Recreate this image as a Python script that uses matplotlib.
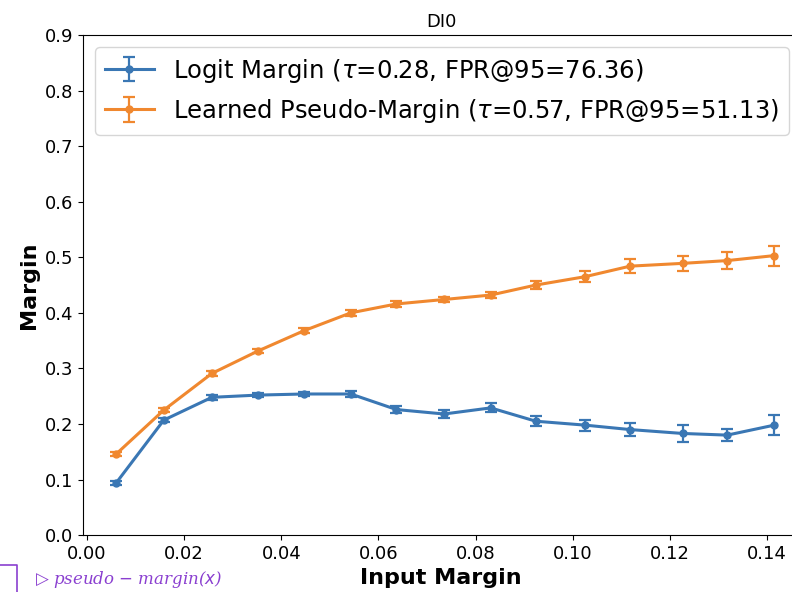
import numpy as np
import matplotlib.pyplot as plt
from matplotlib.lines import Line2D

# input margin bins
input_margin = [0.0060, 0.0158, 0.0257, 0.0351, 0.0447, 0.0543, 0.0637, 0.0735,
                0.0831, 0.0924, 0.1025, 0.1118, 0.1226, 0.1318, 0.1415]

logit_mean = [0.094, 0.207, 0.248, 0.252, 0.254, 0.254, 0.226, 0.218,
              0.229, 0.205, 0.198, 0.190, 0.183, 0.180, 0.198]
logit_err = [0.003, 0.004, 0.004, 0.004, 0.004, 0.005, 0.007, 0.007,
             0.008, 0.009, 0.010, 0.012, 0.015, 0.011, 0.018]

pseudo_mean = [0.146, 0.225, 0.291, 0.331, 0.368, 0.400, 0.416, 0.424,
               0.432, 0.450, 0.465, 0.484, 0.489, 0.494, 0.503]
pseudo_err = [0.003, 0.004, 0.004, 0.004, 0.004, 0.005, 0.005, 0.005,
              0.006, 0.008, 0.010, 0.012, 0.013, 0.015, 0.018]

logit_label = r"Logit Margin ($\tau$=0.28, FPR@95=76.36)"
pseudo_label = r"Learned Pseudo-Margin ($\tau$=0.57, FPR@95=51.13)"

blue = "#3a77b4"
orange = "#f0882f"

fig = plt.figure(figsize=(7.92, 5.92), dpi=100)
ax = fig.add_axes([0.105, 0.096, 0.904, 0.845])

ax.errorbar(input_margin, logit_mean, yerr=logit_err, color=blue, marker="o",
            markersize=5, linewidth=2.2, capsize=4, elinewidth=1.6, capthick=1.6,
            label=logit_label)
ax.errorbar(input_margin, pseudo_mean, yerr=pseudo_err, color=orange, marker="o",
            markersize=5, linewidth=2.2, capsize=4, elinewidth=1.6, capthick=1.6,
            label=pseudo_label)

ax.set_xlim(-0.0008, 0.1466)
ax.set_ylim(0.0, 0.9)
ax.set_xticks(np.arange(0, 0.141, 0.02))
ax.set_yticks(np.arange(0, 0.91, 0.1))
ax.tick_params(labelsize=13)
ax.spines["right"].set_visible(False)

ax.set_title("DI0", fontsize=13)
ax.set_xlabel("Input Margin", fontsize=16, fontweight="bold")
ax.set_ylabel("Margin", fontsize=16, fontweight="bold")
ax.legend(loc="upper left", fontsize=17.5, handlelength=2.0,
          borderaxespad=0.5, handletextpad=0.8)

# cropped caption remnant at the bottom-left
fig.text(0.044, 0.003, r"$\triangleright$ pseudo $-$ margin($x$)", color="#8a3fd0",
         fontsize=12, style="italic", family="DejaVu Serif", va="bottom")
fig.add_artist(Line2D([0.0, 0.021, 0.021], [0.045, 0.045, 0.0],
                      transform=fig.transFigure, color="#8a3fd0", linewidth=1.2))

fig.savefig("out.png", dpi=100)
